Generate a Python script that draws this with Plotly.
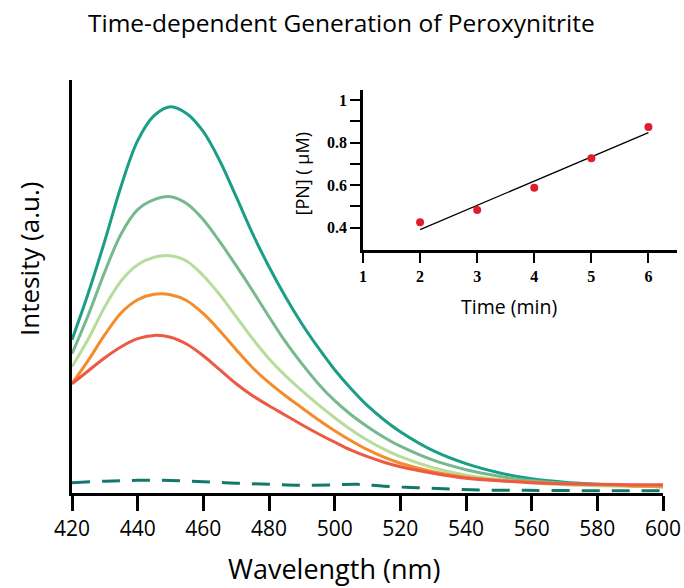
import numpy as np
import plotly.graph_objects as go

# ---------------- data ----------------
wavelength = [420, 425, 430, 435, 440, 445, 450, 455, 460, 465, 470, 475, 480, 485, 490,
              495, 500, 505, 510, 515, 520, 530, 540, 550, 560, 570, 580, 590, 600]
int_6min = [153, 200, 252, 307, 352, 377, 386, 379, 361, 332, 296, 259, 226, 196, 169,
            145, 123, 104, 87, 73, 61, 42, 29, 20, 14, 10.5, 8.5, 7, 6]
int_5min = [139, 178, 221, 259, 283, 293, 296, 289, 273, 251, 227, 202, 176, 151, 129,
            109, 92, 78, 66, 55.5, 46.5, 32.5, 23, 16.5, 12, 9.5, 8, 7, 6]
int_4min = [126, 154, 186, 212, 228, 235.5, 237, 231.5, 217, 198, 176, 154, 134, 117, 102,
            88, 75, 63, 52.5, 43.5, 36, 25, 17.5, 13, 10, 8, 7, 6.5, 6]
int_3min = [109, 132.5, 158, 180, 193, 198.5, 198, 192, 179, 162, 143, 125, 110, 97, 85,
            73, 62, 52, 43, 35.5, 29.5, 21, 15.5, 12.5, 10.5, 9, 8, 7, 6.5]
int_2min = [109, 122, 135, 146, 154, 157.3, 155.5, 148.5, 137, 123, 109, 97, 87, 77.5, 68,
            59, 50.5, 42.5, 36, 30.5, 26, 19.5, 14.5, 12, 10, 9, 8.5, 8, 8]

blank_wl = [420, 430, 440, 450, 460, 470, 480, 490, 500, 507, 515, 525, 535, 545, 555,
            565, 580, 590, 600]
blank_int = [10, 11.5, 12.4, 12.2, 11, 9.5, 8.4, 7.5, 7.9, 8.4, 6.4, 5, 3.7, 2.7, 2.4,
             2.2, 2, 2, 2]

x_ticks = [420, 440, 460, 480, 500, 520, 540, 560, 580, 600]

time_min = [2, 3, 4, 5, 6]
pn_uM = [0.425, 0.483, 0.588, 0.726, 0.873]
inset_x_ticks = [1, 2, 3, 4, 5, 6]
inset_y_ticks = [0.4, 0.5, 0.6, 0.7, 0.8, 0.9, 1.0]
inset_y_text = ["0.4", "", "0.6", "", "0.8", "", "1"]

# ---------------- figure ----------------
W, H = 684, 588
fig = go.Figure()

fig.add_trace(go.Scatter(x=blank_wl, y=blank_int, mode="lines",
                         line=dict(color="#13786c", width=3, dash="18px,12px", shape="spline")))

series = [
    (int_6min, "#1b9e86"),
    (int_5min, "#76b98f"),
    (int_4min, "#b8dc9c"),
    (int_3min, "#f68b2b"),
    (int_2min, "#ec5a44"),
]
for ys, col in series:
    fig.add_trace(go.Scatter(x=wavelength, y=ys, mode="lines",
                             line=dict(color=col, width=3, shape="spline", smoothing=1.0)))

# inset
coef = np.polyfit(time_min, pn_uM, 1)
fit_x = [time_min[0], time_min[-1]]
fit_y = [coef[0] * v + coef[1] for v in fit_x]
fig.add_trace(go.Scatter(x=fit_x, y=fit_y, mode="lines", line=dict(color="black", width=1.3),
                         xaxis="x2", yaxis="y2"))
fig.add_trace(go.Scatter(x=time_min, y=pn_uM, mode="markers",
                         marker=dict(color="#e11d2b", size=8), xaxis="x2", yaxis="y2"))

fig.update_layout(
    width=W, height=H,
    margin=dict(l=0, r=0, t=0, b=0, autoexpand=False),
    paper_bgcolor="white", plot_bgcolor="rgba(0,0,0,0)",
    showlegend=False,
    xaxis=dict(domain=[72 / W, 663 / W], range=[420, 600], tickvals=x_ticks,
               ticks="outside", ticklen=15, tickwidth=3, tickcolor="black",
               showline=True, linecolor="black", linewidth=3,
               showgrid=False, zeroline=False, automargin=False,
               tickfont=dict(family="Open Sans", size=21, color="black")),
    yaxis=dict(domain=[(H - 492.7) / H, (H - 80) / H], range=[0, 412.7],
               showline=True, linecolor="black", linewidth=2.5, automargin=False,
               showticklabels=False, ticks="", showgrid=False, zeroline=False),
    xaxis2=dict(domain=[363 / W, 677 / W], range=[1, 6.5], anchor="y2",
                tickvals=inset_x_ticks, ticks="outside", ticklen=10, tickwidth=2,
                tickcolor="black", showline=True, linecolor="black", linewidth=2.5,
                showgrid=False, zeroline=False, automargin=False,
                tickfont=dict(family="Liberation Serif", size=16, color="black", weight="bold")),
    yaxis2=dict(domain=[(H - 250) / H, (H - 90) / H], range=[0.295, 1.047], anchor="x2",
                tickvals=inset_y_ticks, ticktext=inset_y_text, ticks="outside",
                ticklen=10, tickwidth=2, tickcolor="black", showline=True,
                linecolor="black", linewidth=2.5, showgrid=False, zeroline=False,
                automargin=False,
                tickfont=dict(family="Liberation Serif", size=16, color="black", weight="bold")),
)

def ann(text, x, y, size, angle=0, yanchor="middle"):
    fig.add_annotation(text=text, x=x / W, y=(H - y) / H, xref="paper", yref="paper",
                       showarrow=False, xanchor="center", yanchor=yanchor, textangle=angle,
                       borderpad=0,
                       font=dict(family="Open Sans", size=size, color="black"))

ann("Time-dependent Generation of Peroxynitrite", 341.5, 22, 24.5)
ann("Wavelength (nm)", 334, 588, 27, yanchor="bottom")
ann("Intesity (a.u.)", 29, 259, 26, angle=-90)
ann("Time (min)", 509, 306.7, 19.5)
ann("[PN] ( μM)", 301.5, 174, 18, angle=-90)

fig.write_html("out.html")
